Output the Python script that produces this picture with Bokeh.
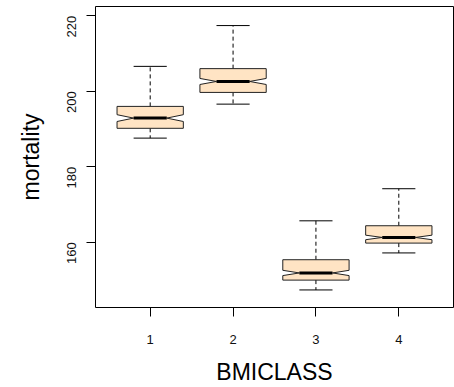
import math
from bokeh.plotting import figure
from bokeh.models import ColumnDataSource, FixedTicker, Range1d
from bokeh.embed import file_html
from bokeh.resources import INLINE

# Box statistics of mortality per BMI class
groups = [1, 2, 3, 4]
upper_whisker = [206.6, 217.4, 165.7, 174.2]
q3 = [196.0, 206.0, 155.4, 164.4]
medians = [192.9, 202.6, 151.9, 161.3]
q1 = [190.2, 199.7, 150.0, 159.8]
lower_whisker = [187.6, 196.6, 147.4, 157.2]
notch_lo = [192.0, 201.8, 151.2, 160.7]
notch_hi = [193.8, 203.4, 152.6, 161.9]

y_ticks = [160, 180, 200, 220]
x_ticks = [1, 2, 3, 4]

half_w = 0.4      # half box width in x units
cap_w = 0.2       # half staple width
notch_w = 0.2     # half width at the notch apex / median bar

FONT = "Liberation Sans"
BOX_FILL = "#FFE4C4"

xs, ys = [], []
for g, lo, nl, m, nh, hi in zip(groups, q1, notch_lo, medians, notch_hi, q3):
    xs.append([g - half_w, g - half_w, g - notch_w, g - half_w, g - half_w,
               g + half_w, g + half_w, g + notch_w, g + half_w, g + half_w])
    ys.append([lo, nl, m, nh, hi, hi, nh, m, nl, lo])

box_src = ColumnDataSource(dict(xs=xs, ys=ys))
src = ColumnDataSource(dict(
    x=groups,
    x_cap0=[g - cap_w for g in groups],
    x_cap1=[g + cap_w for g in groups],
    x_med0=[g - notch_w for g in groups],
    x_med1=[g + notch_w for g in groups],
    upper=upper_whisker, q3=q3, med=medians, q1=q1, lower=lower_whisker,
))

p = figure(
    frame_width=358, frame_height=301,
    x_range=Range1d(0.34, 4.66), y_range=Range1d(142.75, 222.45),
    output_backend="svg", toolbar_location=None,
    min_border_left=95, min_border_top=6, min_border_right=1, min_border_bottom=80,
    background_fill_color="white", border_fill_color="white",
)
p.outline_line_color = "black"
p.outline_line_width = 1
p.xgrid.visible = False
p.ygrid.visible = False

# whiskers
p.segment(x0="x", y0="q3", x1="x", y1="upper", source=src,
          line_color="black", line_width=1, line_dash="4 3")
p.segment(x0="x", y0="q1", x1="x", y1="lower", source=src,
          line_color="black", line_width=1, line_dash="4 3")
# staples
p.segment(x0="x_cap0", y0="upper", x1="x_cap1", y1="upper", source=src,
          line_color="black", line_width=1)
p.segment(x0="x_cap0", y0="lower", x1="x_cap1", y1="lower", source=src,
          line_color="black", line_width=1)
# notched boxes
p.patches(xs="xs", ys="ys", source=box_src, fill_color=BOX_FILL,
          line_color="#222222", line_width=1)
# medians
p.segment(x0="x_med0", y0="med", x1="x_med1", y1="med", source=src,
          line_color="black", line_width=3, line_cap="butt")

for ax in (p.xaxis[0], p.yaxis[0]):
    ax.axis_line_color = None
    ax.major_tick_line_color = "black"
    ax.major_tick_out = 9
    ax.major_tick_in = 0
    ax.minor_tick_line_color = None
    ax.major_label_text_font = FONT
    ax.major_label_text_font_size = "13px"
    ax.major_label_text_color = "#111111"
    ax.axis_label_text_font = FONT
    ax.axis_label_text_font_style = "normal"
    ax.axis_label_text_font_size = "23px"
    ax.axis_label_text_color = "black"

p.xaxis.ticker = FixedTicker(ticks=x_ticks)
p.yaxis.ticker = FixedTicker(ticks=y_ticks)
p.yaxis.major_label_orientation = math.pi / 2
p.xaxis.major_label_standoff = 18
p.yaxis.major_label_standoff = 15
p.xaxis.axis_label = "BMICLASS"
p.yaxis.axis_label = "mortality"
p.xaxis.axis_label_standoff = 12
p.yaxis.axis_label_standoff = 16

open("out.html", "w").write(file_html(p, INLINE))
